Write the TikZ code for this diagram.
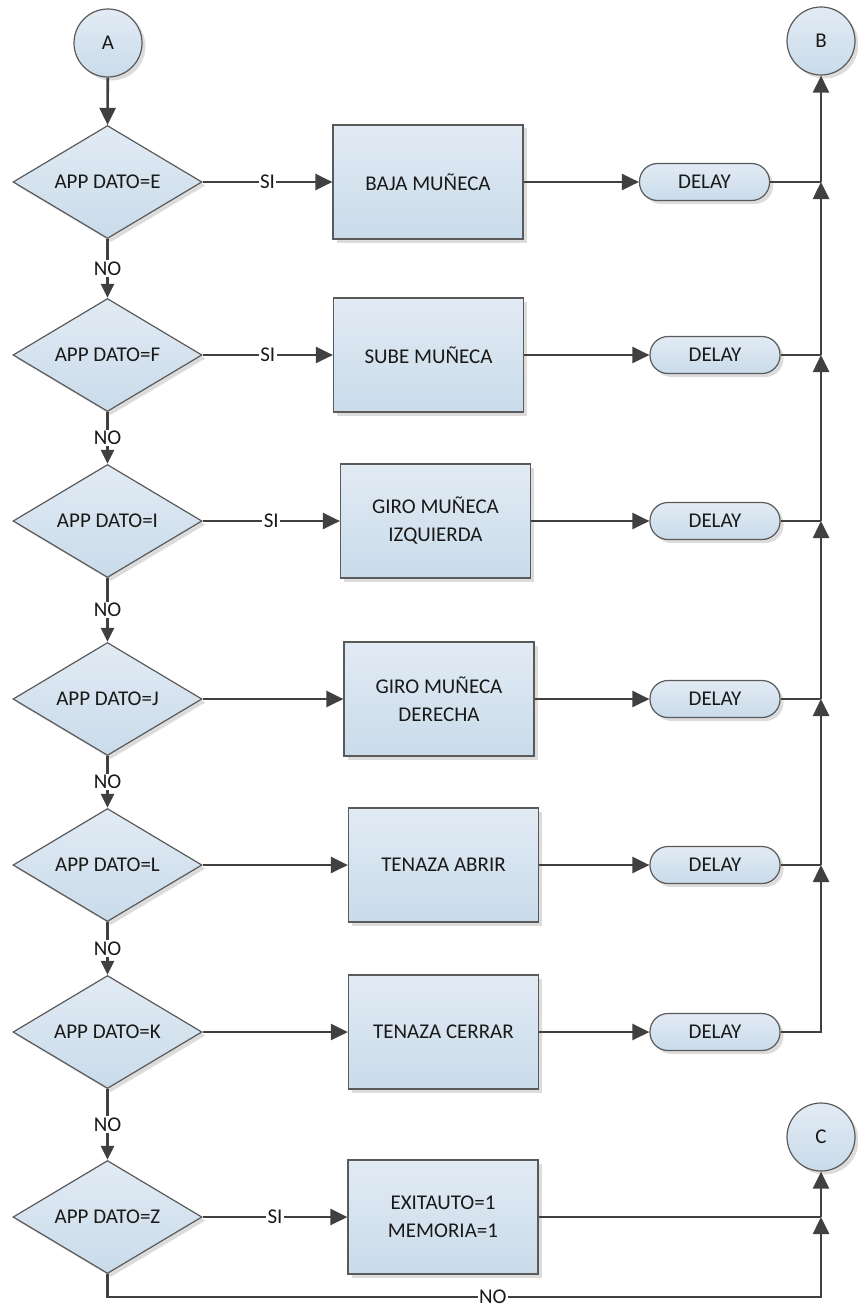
\documentclass[tikz,border=0pt]{standalone}
\usepackage{fontspec}
\setmainfont{Carlito}
\usetikzlibrary{shapes.geometric,arrows.meta,shadows}
\definecolor{linegray}{HTML}{404040}
\definecolor{edgegray}{HTML}{5A5A5A}
\definecolor{filltop}{HTML}{E2EBF4}
\definecolor{fillbot}{HTML}{C9DBEA}
\definecolor{shadowgray}{HTML}{DCDCDC}
\tikzset{
  base/.style={draw=edgegray, line width=1.2pt, top color=filltop, bottom color=fillbot,
    inner sep=0pt, font=\fontsize{21}{28}\selectfont, text=black!90, align=center,
    drop shadow={shadow xshift=3.5pt, shadow yshift=-3.5pt, fill=shadowgray, opacity=1}},
  decision/.style={base, diamond, minimum width=189pt, minimum height=113pt, aspect=1.67},
  process/.style={base, rectangle, minimum width=190pt, minimum height=114pt},
  delaybox/.style={base, rectangle, rounded corners=18pt, minimum width=130pt, minimum height=37pt},
  connector/.style={base, circle, minimum size=68pt},
  flow/.style={draw=linegray, line width=2.6pt, -{Triangle[length=17pt,width=16pt]}},
  flowsmall/.style={draw=linegray, line width=2.6pt, -{Triangle[length=14pt,width=13pt]}},
  plain/.style={draw=linegray, line width=2.6pt},
  tag/.style={fill=white, inner sep=1.5pt, text=black!90, font=\fontsize{21}{24}\selectfont}
}
\begin{document}
\begin{tikzpicture}[x=1pt,y=-1pt]
\useasboundingbox (0,0) rectangle (858,1308);

% off-page connectors
\node[connector] (A) at (108,43) {A};
\node[connector] (B) at (821,41) {B};
\node[connector] (C) at (821,1137) {C};

% decisions
\node[decision] (d1) at (107.5,182) {APP DATO=E};
\node[decision] (d2) at (107.5,355) {APP DATO=F};
\node[decision] (d3) at (107.5,521) {APP DATO=I};
\node[decision] (d4) at (107.5,699) {APP DATO=J};
\node[decision] (d5) at (107.5,865) {APP DATO=L};
\node[decision] (d6) at (107.5,1032) {APP DATO=K};
\node[decision] (d7) at (107.5,1217) {APP DATO=Z};

% actions
\node[process] (p1) at (428,182) {BAJA MUÑECA};
\node[process] (p2) at (428.5,355) {SUBE MUÑECA};
\node[process] (p3) at (435.5,521) {GIRO MUÑECA\\IZQUIERDA};
\node[process] (p4) at (439,699) {GIRO MUÑECA\\DERECHA};
\node[process] (p5) at (443.5,865) {TENAZA ABRIR};
\node[process] (p6) at (443.5,1032) {TENAZA CERRAR};
\node[process] (p7) at (443,1217) {EXITAUTO=1\\MEMORIA=1};

% delays
\node[delaybox] (t1) at (704.5,182) {DELAY};
\node[delaybox] (t2) at (715,355) {DELAY};
\node[delaybox] (t3) at (715,521) {DELAY};
\node[delaybox] (t4) at (715,699) {DELAY};
\node[delaybox] (t5) at (715,865) {DELAY};
\node[delaybox] (t6) at (715,1032) {DELAY};

% junctions on the return line
\coordinate (j1) at (821,182);
\coordinate (j2) at (821,355);
\coordinate (j3) at (821,521);
\coordinate (j4) at (821,699);
\coordinate (j5) at (821,865);
\coordinate (j6) at (821,1032);
\coordinate (j7) at (821,1217);
\coordinate (n1) at (107.5,1297);
\coordinate (n2) at (821,1297);

% main vertical flow
\draw[flow] (A) -- (d1.north);
\foreach \a/\b in {d1/d2,d2/d3,d3/d4,d4/d5,d5/d6,d6/d7}
  \draw[flowsmall] (\a.south) -- node[tag] {NO} (\b.north);

% decision -> action
\draw[flow] (d1.east) -- node[tag] {SI} (p1.west);
\draw[flow] (d2.east) -- node[tag] {SI} (p2.west);
\draw[flow] (d3.east) -- node[tag] {SI} (p3.west);
\draw[flow] (d4.east) -- (p4.west);
\draw[flow] (d5.east) -- (p5.west);
\draw[flow] (d6.east) -- (p6.west);
\draw[flow] (d7.east) -- node[tag] {SI} (p7.west);

% action -> delay
\foreach \i in {1,...,6}
  \draw[flow] (p\i.east) -- (t\i.west);

% delays -> return line
\foreach \i in {1,...,5}
  \draw[plain] (t\i.east) -- (j\i);
\draw[flow] (t6.east) -- (j6) -- (j5);
\draw[flow] (j5) -- (j4);
\draw[flow] (j4) -- (j3);
\draw[flow] (j3) -- (j2);
\draw[flow] (j2) -- (j1);
\draw[flow] (j1) -- (B.south);

% last branch
\draw[plain] (p7.east) -- (j7);
\draw[flow] (j7) -- (C.south);
\draw[flow] (d7.south) -- (n1) -- node[tag, pos=0.54] {NO} (n2) -- (j7);
\end{tikzpicture}
\end{document}
